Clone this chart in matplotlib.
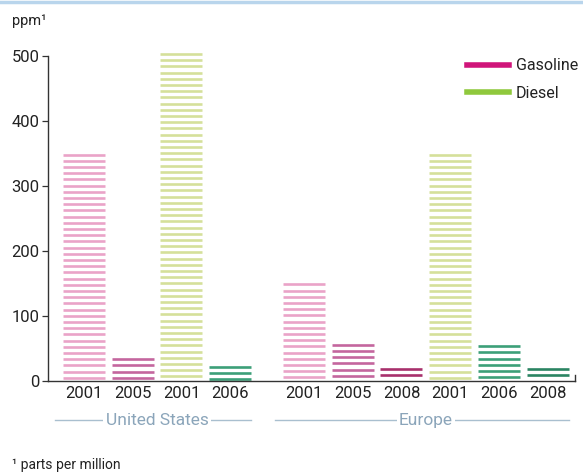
import numpy as np
import matplotlib
matplotlib.use("Agg")
import matplotlib.pyplot as plt
from matplotlib.lines import Line2D
import matplotlib.transforms as mtransforms

# ---- data ----
groups = ["United States", "Europe"]
us_years = ["2001", "2005", "2001", "2006"]
us_fuel = ["Gasoline", "Gasoline", "Diesel", "Diesel"]
us_values = [350, 35, 505, 23]
eu_years = ["2001", "2005", "2008", "2001", "2006", "2008"]
eu_fuel = ["Gasoline", "Gasoline", "Gasoline", "Diesel", "Diesel", "Diesel"]
eu_values = [150, 57, 20, 350, 55, 20]
yticks = [0, 100, 200, 300, 400, 500]

# styles
bar_colors_us = ["#eaa3c8", "#c4669e", "#d5e09a", "#3c9f78"]
bar_colors_eu = ["#eaa3c8", "#c4669e", "#a8306c", "#d5e09a", "#3c9f78", "#2b8462"]
legend_colors = {"Gasoline": "#d0157a", "Diesel": "#8fc83c"}
group_color = "#8ba5ba"
line_color = "#a9bfcf"

FONT = ["Roboto", "DejaVu Sans"]
plt.rcParams["font.family"] = FONT

fig = plt.figure(figsize=(5.83, 4.76), dpi=100)
ax = fig.add_axes([48 / 583, 0.2, 527 / 583, 0.682])

gap = 0.5
x_us = np.arange(len(us_values), dtype=float)
x_eu = np.arange(len(eu_values), dtype=float) + len(us_values) + gap
xs = np.concatenate([x_us, x_eu])
vals = us_values + eu_values
cols = bar_colors_us + bar_colors_eu
labels = us_years + eu_years
width = 0.86

ax.set_xlim(-0.73, xs[-1] + 0.55)
ax.set_ylim(0, 500)

# striped bars
px_per_unit = 0.682 * 476 / 500.0
period = 6.2 / px_per_unit
for x, v, c in zip(xs, vals, cols):
    ys = np.arange(v - 1.6, 1.2, -period)
    ax.hlines(ys, x - width / 2, x + width / 2, colors=c, linewidth=1.9, clip_on=False)

# axes styling
for s in ["top", "right"]:
    ax.spines[s].set_visible(False)
ax.spines["left"].set_color("#333333")
ax.spines["bottom"].set_color("#333333")
ax.spines["left"].set_linewidth(1.0)
ax.spines["bottom"].set_linewidth(1.0)
ax.set_yticks(yticks)
ax.set_yticklabels([str(t) for t in yticks], fontsize=12)
ax.tick_params(axis="y", direction="out", length=4.5, width=0.9, pad=1.5, color="#333333")
ax.set_xticks(xs)
ax.set_xticklabels(labels, fontsize=12)
ax.tick_params(axis="x", length=0, pad=4)
for lab in ax.get_xticklabels() + ax.get_yticklabels():
    lab.set_color("#222222")
# small end tick on the right of the baseline
ax.plot([1, 1], [0, 0.018], transform=ax.transAxes, color="#333333", lw=1.0, clip_on=False)

# group labels with lines
trans = mtransforms.blended_transform_factory(ax.transData, ax.transAxes)
gy = -0.121
for name, gx in zip(groups, [x_us, x_eu]):
    x0 = gx[0] - width / 2 - 0.15
    x1 = gx[-1] + width / 2
    ax.plot([x0, x1], [gy, gy], transform=trans, color=line_color, lw=1.0, clip_on=False)
    ax.text((gx[0] + gx[-1]) / 2, gy, name, transform=trans, ha="center", va="center",
            fontsize=12.5, color=group_color,
            bbox=dict(facecolor="white", edgecolor="none", pad=1.5))

# legend
handles = [Line2D([0], [0], color=legend_colors[k], lw=4) for k in ["Gasoline", "Diesel"]]
leg = fig.legend(handles, ["Gasoline", "Diesel"], loc="upper left",
                 bbox_to_anchor=(453 / 583, 1 - 44 / 476), frameon=False,
                 fontsize=11.5, handlelength=2.6, handletextpad=0.45, labelspacing=0.78)
for t in leg.get_texts():
    t.set_color("#222222")

# unit label and footnote
fig.text(12 / 583, 1 - 21 / 476, "ppm¹", fontsize=10.5, color="#222222", va="center")
fig.text(12 / 583, 1 - 465 / 476, "¹ parts per million", fontsize=10, color="#222222",
         va="center")

# top decorative line
fig.add_artist(Line2D([0, 1], [1 - 1.5 / 476, 1 - 1.5 / 476], transform=fig.transFigure,
                      color="#b9d5ec", lw=2.5))

fig.savefig("out.png", dpi=100)
